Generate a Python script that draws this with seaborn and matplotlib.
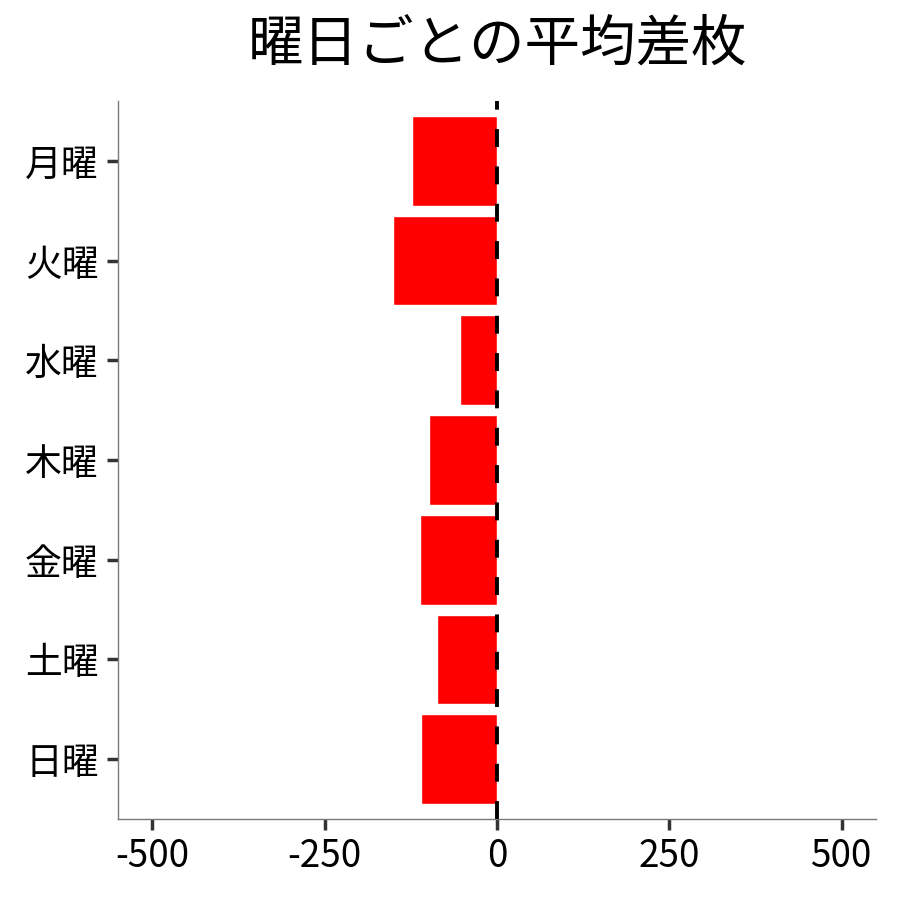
import matplotlib
matplotlib.use("Agg")
import matplotlib.pyplot as plt
import seaborn as sns
import pandas as pd

days = ["月曜", "火曜", "水曜", "木曜", "金曜", "土曜", "日曜"]
avg_diff = [-124, -151, -53, -98, -112, -87, -110]
xticks = [-500, -250, 0, 250, 500]

sns.set_style("white")
plt.rcParams['font.family'] = ['Noto Sans CJK JP', 'DejaVu Sans']
plt.rcParams['text.color'] = 'black'

df = pd.DataFrame({"day": days, "diff": avg_diff})

fig = plt.figure(figsize=(9, 9), dpi=100)
ax = fig.add_axes([118/900, 81/900, (876-118)/900, (819-101)/900])

sns.barplot(data=df, y="day", x="diff", order=days, color="#ff0000",
            width=0.9, saturation=1, ax=ax, orient="h")
ax.axvline(0, color="black", lw=2.8, linestyle=(0, (4.6, 5.0)), zorder=5)

ax.set_xlim(-550, 550)
ax.set_ylim(6.6, -0.6)
ax.set_xticks(xticks)
ax.set_xticklabels([str(v) for v in xticks])
ax.set_xlabel("")
ax.set_ylabel("")

for s in ["top", "right"]:
    ax.spines[s].set_visible(False)
for s in ["left", "bottom"]:
    ax.spines[s].set_color("#7a7a7a")
    ax.spines[s].set_linewidth(1.0)

ax.tick_params(axis="both", which="major", length=8, width=2.5,
               color="#333333", labelsize=26.5, labelcolor="black",
               direction="out", bottom=True, left=True)
ax.tick_params(axis="x", pad=5)
ax.tick_params(axis="y", pad=6)

fig.suptitle("曜日ごとの平均差枚", fontsize=40, color="black",
             x=(118+876)/2/900, y=1-45/900, va="center")

fig.savefig("out.png", dpi=100)
